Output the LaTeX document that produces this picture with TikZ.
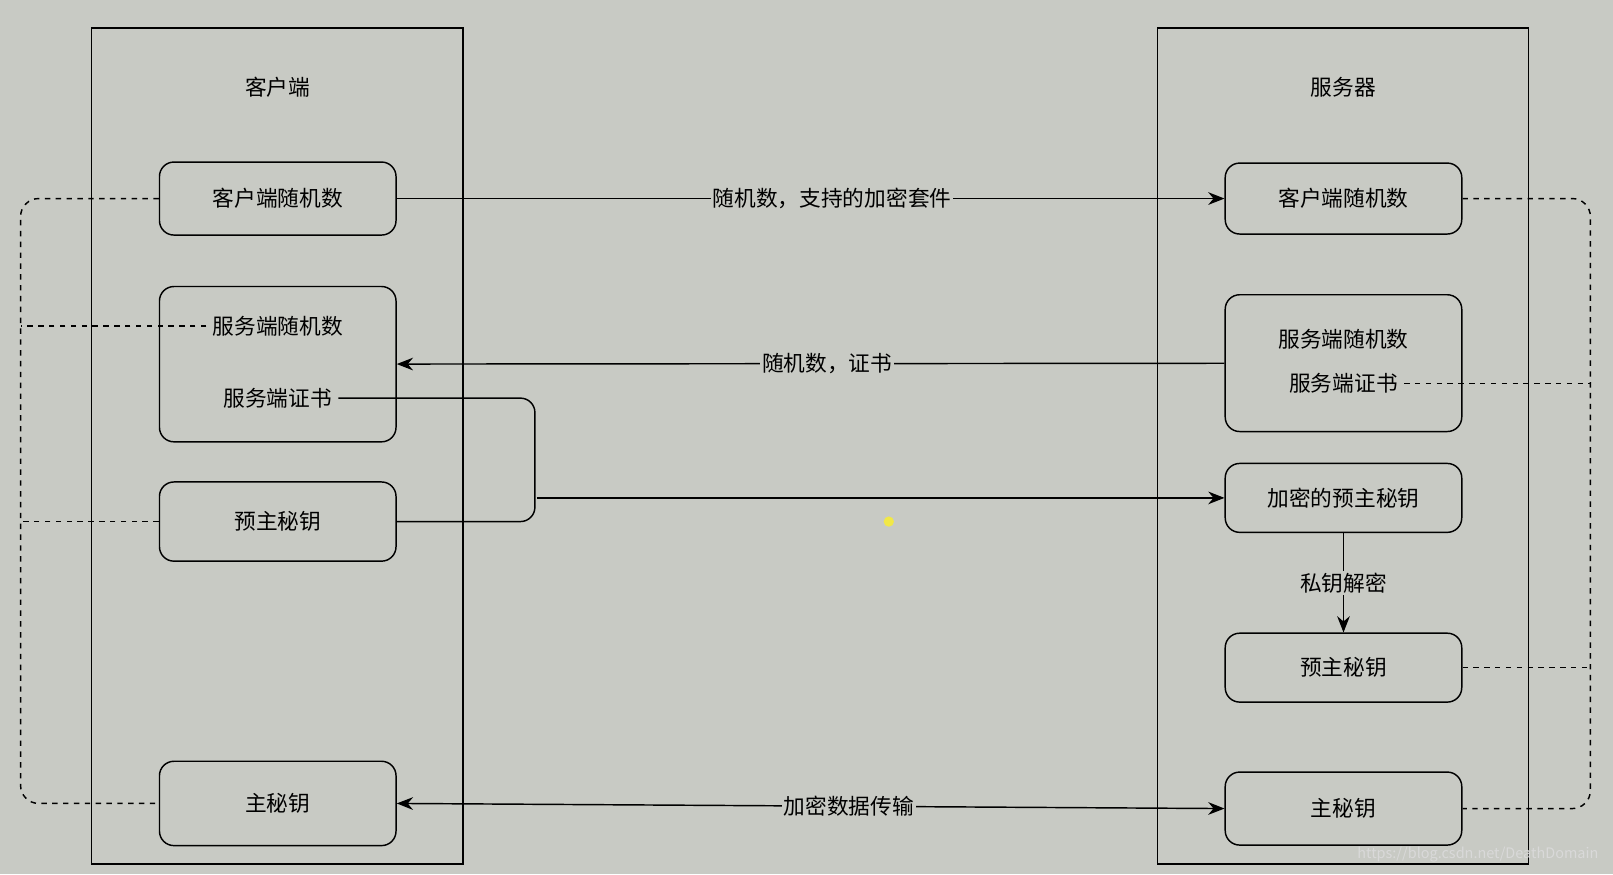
\documentclass[tikz,border=0pt]{standalone}
\usepackage{fontspec}
\setmainfont{Noto Sans CJK SC}
\usepackage{tikz}
\usetikzlibrary{arrows, arrows.meta, calc}
\definecolor{bgcol}{RGB}{200,202,196}
\begin{document}
\begin{tikzpicture}[x=0.02cm,y=-0.02cm,font=\fontsize{12}{14}\selectfont]
      \tikzset{keybox/.style={draw,thick,rounded corners=8pt,
          minimum width=4.6cm,inner sep=0pt},
        flow/.style={thick,-{Stealth[length=9pt,width=7pt]}},
        link/.style={thick,dashed,rounded corners=10pt},
        lbl/.style={fill=bgcol,inner sep=1pt}
      }
      \fill[bgcol] (0,0) rectangle (1568,850);
      \useasboundingbox (0,0) rectangle (1568,850);
      % the two parties
      \draw[thick] (89,27) rectangle (450,840);
      \draw[thick] (1125,27) rectangle (1486,840);
      \node (client) at (270,85) {客户端};
      \node (server) at (1306,85) {服务器};
      % client side
      \node [keybox,minimum height=1.42cm] (lrand) at (270,193) {客户端随机数};
      \node [keybox,minimum height=3.02cm] (lbox) at (270,354) {};
      \node (lsrand) at (270,317) {服务端随机数};
      \node (lcert) at (270,387) {服务端证书};
      \node [keybox,minimum height=1.54cm] (lpre) at (270,507) {预主秘钥};
      \node [keybox,minimum height=1.64cm] (lmk) at (270,781) {主秘钥};
      % server side
      \node [keybox,minimum height=1.38cm] (rrand) at (1306,193) {客户端随机数};
      \node [keybox,minimum height=2.66cm] (rbox) at (1306,353) {};
      \node (rsrand) at (1306,330) {服务端随机数};
      \node (rcert) at (1306,373) {服务端证书};
      \node [keybox,minimum height=1.34cm] (renc) at (1306,484) {加密的预主秘钥};
      \node [keybox,minimum height=1.34cm] (rpre) at (1306,649) {预主秘钥};
      \node [keybox,minimum height=1.42cm] (rmk) at (1306,786) {主秘钥};
      % messages
      \draw[flow] (lrand) -- node[lbl,pos=0.526] {随机数，支持的加密套件} (rrand);
      \draw[flow] (rbox) -- node[lbl,pos=0.48] {随机数，证书} (lbox);
      \coordinate (jn) at (520,450);
      \coordinate (js) at (522,484);
      \draw[thick,rounded corners=8pt] (lcert.east) -| (jn) |- (lpre.east);
      \draw[flow] (js) -- (renc.west);
      \draw[flow] (renc) -- node[lbl] {私钥解密} (rpre);
      \draw[flow,{Stealth[length=9pt,width=7pt]}-{Stealth[length=9pt,width=7pt]}] (lmk.east) -- node[lbl,pos=0.546] {加密数据传输} (rmk.west);
      % key derivation
      \coordinate (la) at (20,193);
      \coordinate (lb) at (20,781);
      \coordinate (ra) at (1546,193);
      \coordinate (rb) at (1546,786);
      \draw[link] (lrand.west) -- (la) -- (lb) -- (lmk.west);
      \draw[thick,dashed] (lsrand.west) -- (lsrand.west -| la);
      \draw[thick,dashed] (lpre.west) -- (lpre.west -| la);
      \draw[link] (rrand.east) -- (ra) -- (rb) -- (rmk.east);
      \draw[thick,dashed] (rcert.east) -- (rcert.east -| ra);
      \draw[thick,dashed] (rpre.east) -- (rpre.east -| ra);
      \fill[yellow!70!bgcol] (864,507) circle (5);
      \node[text=white!85!black,font=\fontsize{8}{10}\selectfont,anchor=east] (mark) at (1560,831) {https://blog.csdn.net/DeathDomain};
\end{tikzpicture}
\end{document}
